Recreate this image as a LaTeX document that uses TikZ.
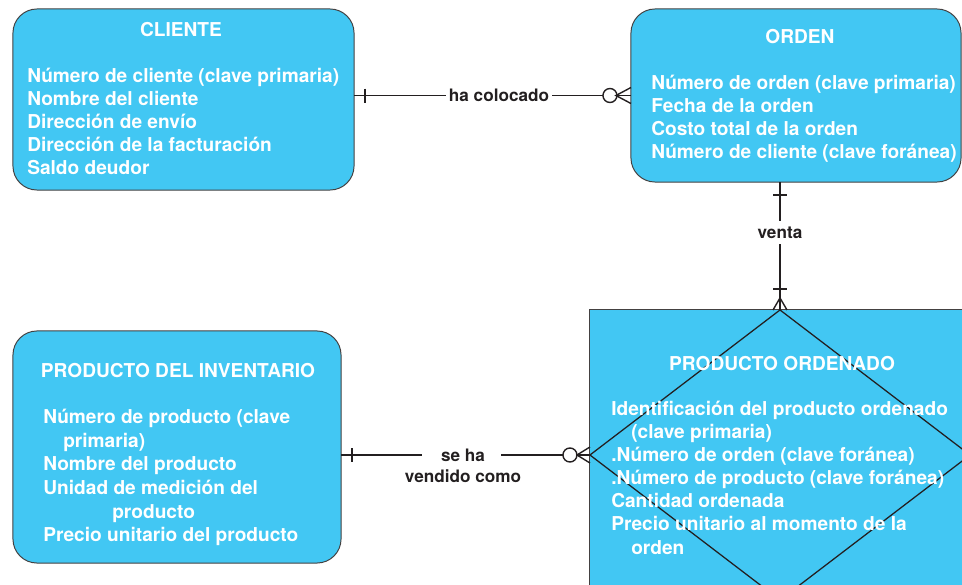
\documentclass[tikz,border=0pt]{standalone}
\usepackage{fontspec}
\setmainfont{TeX Gyre Heros}
\usetikzlibrary{positioning, calc, shapes.geometric}

\definecolor{erblue}{HTML}{42C7F3}
\definecolor{erline}{HTML}{231F20}

\begin{document}
\begin{tikzpicture}[
    x=0.025cm, y=-0.025cm,
    every node/.style={font=\bfseries\fontsize{13.6}{16.4}\selectfont},
    entity/.style={rectangle, rounded corners=0.6cm, draw=erline!85, fill=erblue,
                   line width=0.7pt, inner sep=0pt, outer sep=0pt},
    assoc/.style={rectangle, draw=erline!85, fill=erblue, line width=0.7pt,
                  inner sep=0pt, outer sep=0pt},
    rombo/.style={diamond, draw=erline, line width=0.9pt, inner sep=0pt, outer sep=0pt},
    titulo/.style={text=white, anchor=base, inner sep=0pt},
    atrib/.style={text=white, align=left, anchor=north west, inner sep=0pt},
    rel/.style={draw=erline, line width=1pt},
    rlabel/.style={text=erline, font=\bfseries\fontsize{12.2}{14.9}\selectfont,
                   fill=white, inner sep=2pt, anchor=base},
]
\useasboundingbox (0,0) rectangle (962,585);
\clip (0,0) rectangle (962,585);

% Entities
\node[entity, minimum width=8.525cm, minimum height=4.525cm] (cliente)    at (183.5,99.5) {};
\node[entity, minimum width=8.25cm,  minimum height=4.325cm] (orden)      at (796,95.5)   {};
\node[entity, minimum width=8.2cm,   minimum height=5.8cm]   (inventario) at (177,447)    {};
\node[assoc,  minimum width=9.75cm,  minimum height=7.25cm]  (ordenado)   at (785,455)    {};
\node[rombo,  minimum width=9.5cm,   minimum height=7.25cm]  (rombo)      at (780,455)    {};

% Texts
\node[titulo] (tcliente) at (181,36) {CLIENTE};
\node[atrib]  (acliente) at (27,68) {Número de cliente (clave primaria)\\
    Nombre del cliente\\Dirección de envío\\Dirección de la facturación\\Saldo deudor};

\node[titulo] (torden) at (800,44) {ORDEN};
\node[atrib]  (aorden) at (651,75) {Número de orden (clave primaria)\\
    Fecha de la orden\\Costo total de la orden\\Número de cliente (clave foránea)};

\node[titulo] (tinventario) at (178,377) {PRODUCTO DEL INVENTARIO};
\node[atrib, font=\bfseries\fontsize{13.6}{16.8}\selectfont]
      (ainventario) at (43,409) {Número de producto (clave\\
    \hspace*{0.5cm}primaria)\\Nombre del producto\\Unidad de medición del\\
    \hspace*{1.725cm}producto\\Precio unitario del producto};

\node[titulo] (tordenado) at (782,370) {PRODUCTO ORDENADO};
\node[atrib]  (aordenado) at (611,401) {Identificación del producto ordenado\\
    \hspace*{0.5cm}(clave primaria)\\.Número de orden (clave foránea)\\
    .Número de producto (clave foránea)\\Cantidad ordenada\\
    Precio unitario al momento de la\\\hspace*{0.5cm}orden};

% ha colocado
\draw[rel] (cliente.east |- orden.west) -- (orden.west);
\draw[rel] ($(cliente.east |- orden.west)+(11,-7)$) -- +(0,14);
\draw[rel, fill=white] ($(orden.west)+(-21,0)$) circle[radius=7];
\draw[rel] ($(orden.west)+(0,-8)$) -- ($(orden.west)+(-15,0)$) -- ($(orden.west)+(0,8)$);
\node[rlabel] (lcolocado) at (499,101) {ha colocado};

% venta
\draw[rel] (orden.south -| rombo.north) -- (rombo.north);
\draw[rel] ($(orden.south -| rombo.north)+(-7,13)$) -- +(14,0);
\draw[rel] ($(rombo.north)+(-7,-21)$) -- +(14,0);
\draw[rel] ($(rombo.north)+(-7,0)$) -- ($(rombo.north)+(0,-12)$) -- ($(rombo.north)+(7,0)$);
\node[rlabel, inner ysep=4pt] (lventa) at (780,238) {venta};

% se ha vendido como
\coordinate (vendL) at (422,455);
\coordinate (vendR) at (501,455);
\draw[rel] (inventario.east |- rombo.west) -- (vendL);
\draw[rel] (vendR) -- (rombo.west);
\draw[rel] ($(inventario.east |- rombo.west)+(11,-7)$) -- +(0,14);
\draw[rel, fill=white] ($(rombo.west)+(-20,0)$) circle[radius=7];
\draw[rel] ($(rombo.west)+(0,-8)$) -- ($(rombo.west)+(-13,0)$) -- ($(rombo.west)+(0,8)$);
\node[rlabel, fill=none, align=center, anchor=north, inner sep=0pt,
      font=\bfseries\fontsize{12.2}{14.9}\selectfont] (lvendido) at (463,449) {se ha\\vendido como};

\end{tikzpicture}
\end{document}
